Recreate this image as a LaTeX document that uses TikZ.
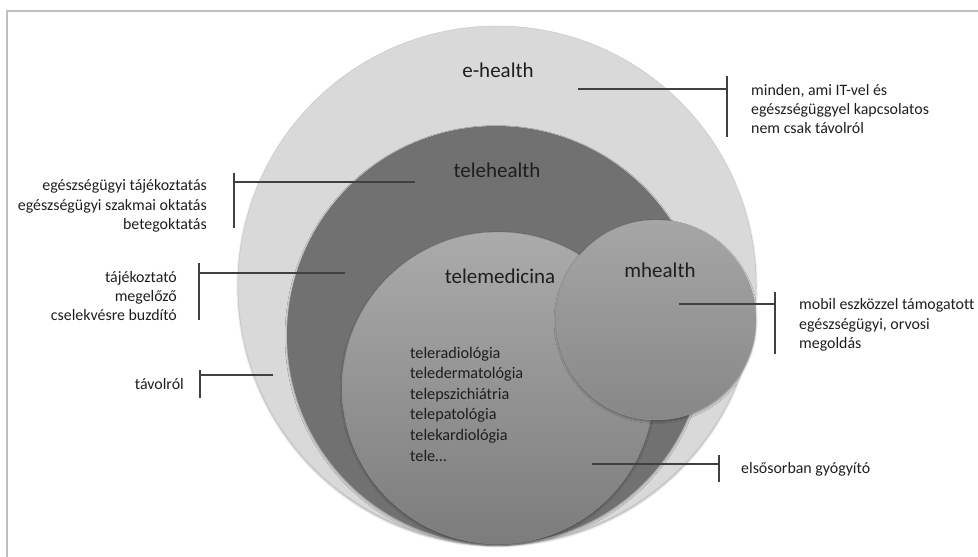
\documentclass[tikz,border=0pt]{standalone}
\usepackage{fontspec}
\setmainfont{Carlito}[Ligatures=CommonOff]
\usepackage{tikz}
\usetikzlibrary{positioning,shadows.blur}
\definecolor{outerfill}{HTML}{D9D9D9}
\definecolor{darkfill}{HTML}{717171}
\definecolor{medtop}{HTML}{ABABAB}
\definecolor{medbot}{HTML}{7C7C7C}
\definecolor{mobtop}{HTML}{A6A6A6}
\definecolor{mobbot}{HTML}{878787}
\definecolor{leadgray}{HTML}{404040}
\definecolor{txt}{HTML}{1E1E1E}
\tikzset{
  ring/.style={circle, inner sep=0pt, outer sep=0pt, blur shadow={shadow xshift=0pt, shadow yshift=-1.5pt, shadow blur radius=2pt, shadow opacity=35}},
  title/.style={font=\fontsize{21}{25}\selectfont, text=txt, inner sep=0pt},
  note/.style={font=\fontsize{15.9}{19.2}\selectfont, text=txt, inner sep=0pt},
  lead/.style={draw=leadgray, line width=1.3pt},
  frame/.style={draw=black!25, line width=1.2pt}
}
\begin{document}
\begin{tikzpicture}[x=1pt, y=-1pt]
  \useasboundingbox (0,0) rectangle (978,557);
  \draw[frame] (7,557) -- (7,11) -- (978,11);

  % nested circles
  \node[ring, fill=outerfill, draw=black!22, minimum size=518pt] (ehealth) at (497,285) {};
  \node[ring, fill=darkfill, minimum size=418pt] (telehealth) at (496,335) {};
  \node[ring, top color=medtop, bottom color=medbot, draw=black!45, minimum size=312pt] (telemed) at (498,388) {};
  \node[ring, top color=mobtop, bottom color=mobbot, draw=black!40, minimum size=200pt] (mhealth) at (656,320) {};

  \node[title] (t-ehealth) at (498,70) {e-health};
  \node[title] (t-telehealth) at (497,170) {telehealth};
  \node[title] (t-telemed) at (500,276) {telemedicina};
  \node[title] (t-mhealth) at (660,270) {mhealth};

  \node[note, font=\fontsize{16.2}{20.6}\selectfont, anchor=west, align=left] (list) at (410,404)
    {teleradiológia\\teledermatológia\\telepszichiátria\\telepatológia\\telekardiológia\\tele…};

  % e-health
  \coordinate (a1) at (578,89);  \coordinate (a2) at (727,89);
  \coordinate (a3) at (727,76);  \coordinate (a4) at (727,137);
  \draw[lead] (a1) -- (a2);
  \draw[lead] (a3) -- (a4);
  \node[note, anchor=west, align=left] (n-ehealth) at (751,109)
    {minden, ami IT-vel és\\egészségüggyel kapcsolatos\\nem csak távolról};

  % telehealth
  \coordinate (b1) at (415,182); \coordinate (b2) at (234,182);
  \coordinate (b3) at (234,173); \coordinate (b4) at (234,228);
  \draw[lead] (b1) -- (b2);
  \draw[lead] (b3) -- (b4);
  \node[note, anchor=east, align=right] (n-telehealth) at (207,206)
    {egészségügyi tájékoztatás\\egészségügyi szakmai oktatás\\betegoktatás};

  \coordinate (c1) at (345,273); \coordinate (c2) at (199,273);
  \coordinate (c3) at (199,263); \coordinate (c4) at (199,320);
  \draw[lead] (c1) -- (c2);
  \draw[lead] (c3) -- (c4);
  \node[note, anchor=east, align=right] (n-aims) at (177,296)
    {tájékoztató\\megelőző\\cselekvésre buzdító};

  \coordinate (d1) at (273,375); \coordinate (d2) at (200,375);
  \coordinate (d3) at (200,370); \coordinate (d4) at (200,398);
  \draw[lead] (d1) -- (d2);
  \draw[lead] (d3) -- (d4);
  \node[note, anchor=east] (n-remote) at (184,384) {távolról};

  % mhealth
  \coordinate (m1) at (679,304); \coordinate (m2) at (775,304);
  \coordinate (m3) at (775,292); \coordinate (m4) at (775,354);
  \draw[lead] (m1) -- (m2);
  \draw[lead] (m3) -- (m4);
  \node[note, anchor=west, align=left] (n-mhealth) at (799,325)
    {mobil eszközzel támogatott\\egészségügyi, orvosi\\megoldás};

  % telemedicina
  \coordinate (g1) at (592,464); \coordinate (g2) at (719,464);
  \coordinate (g3) at (719,455); \coordinate (g4) at (719,482);
  \draw[lead] (g1) -- (g2);
  \draw[lead] (g3) -- (g4);
  \node[note, anchor=west] (n-telemed) at (741,469) {elsősorban gyógyító};
\end{tikzpicture}
\end{document}
